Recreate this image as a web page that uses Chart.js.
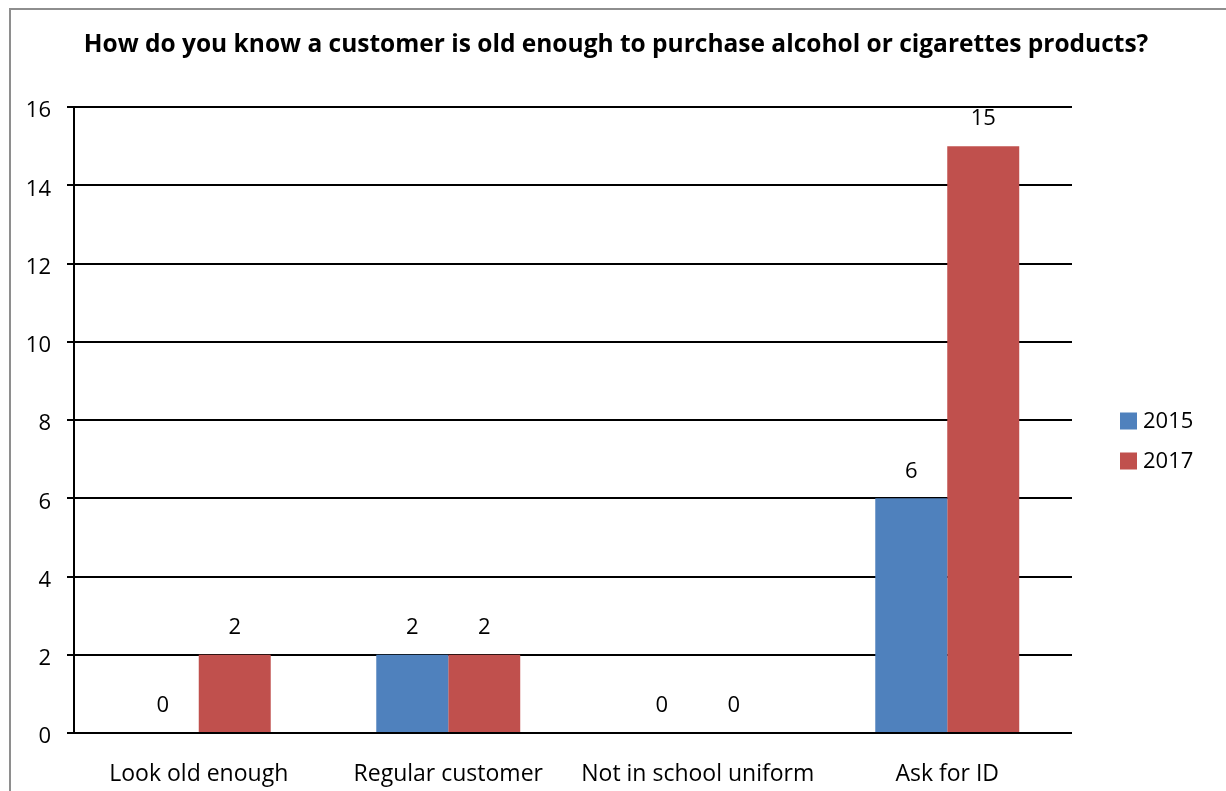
<!DOCTYPE html>
<html>
<head>
<meta charset="utf-8">
<script src="https://cdn.jsdelivr.net/npm/chart.js@4/dist/chart.umd.min.js"></script>
<style>
  html, body { margin: 0; padding: 0; background: #fff; overflow: hidden; }
  #wrap { position: relative; width: 1226px; height: 791px; }
  #frame { position: absolute; left: 9px; top: 8px; width: 1400px; height: 1000px;
           border: 2px solid #8e8e8e; box-sizing: border-box; pointer-events: none; }
  canvas { position: absolute; left: 0; top: 0; }
</style>
</head>
<body>
<div id="wrap">
  <div id="frame"></div>
  <canvas id="c" width="1226" height="791"></canvas>
</div>
<script>
const titleText = 'How do you know a customer is old enough to purchase alcohol or cigarettes products?';
const categories = ['Look old enough', 'Regular customer', 'Not in school uniform', 'Ask for ID'];
const seriesNames = ['2015', '2017'];
const values2015 = [0, 2, 0, 6];
const values2017 = [2, 2, 0, 15];
const seriesColors = ['#4F81BD', '#C0504D'];
const yTicks = [0, 2, 4, 6, 8, 10, 12, 14, 16];

const FONT = '"Open Sans", Lato, sans-serif';

// title centred across the whole canvas
const topTitle = {
  id: 'topTitle',
  afterDraw(chart) {
    const ctx = chart.ctx;
    ctx.save();
    ctx.font = 'bold 24.5px ' + FONT;
    ctx.fillStyle = '#000';
    ctx.textAlign = 'center';
    ctx.textBaseline = 'middle';
    ctx.fillText(titleText, chart.width / 2 + 3, 45);
    ctx.restore();
  }
};

// value labels above each bar
const valueLabels = {
  id: 'valueLabels',
  afterDatasetsDraw(chart) {
    const ctx = chart.ctx;
    ctx.save();
    ctx.font = '22px ' + FONT;
    ctx.fillStyle = '#000';
    ctx.textAlign = 'center';
    ctx.textBaseline = 'middle';
    chart.data.datasets.forEach((ds, i) => {
      chart.getDatasetMeta(i).data.forEach((bar, j) => {
        ctx.fillText(String(ds.data[j]), bar.x, bar.y - 27);
      });
    });
    ctx.restore();
  }
};

// legend on the right side
const sideLegend = {
  id: 'sideLegend',
  afterDraw(chart) {
    const ctx = chart.ctx;
    ctx.save();
    ctx.font = '22px ' + FONT;
    ctx.textBaseline = 'middle';
    ctx.textAlign = 'left';
    const x0 = chart.chartArea.right + 48;
    const yMid = 441;
    chart.data.datasets.forEach((ds, i) => {
      const y = yMid + (i - 0.5) * 40;
      ctx.fillStyle = ds.backgroundColor;
      ctx.fillRect(x0, y - 8.5, 17, 17);
      ctx.fillStyle = '#000';
      ctx.fillText(ds.label, x0 + 23, y + 1);
    });
    ctx.restore();
  }
};

new Chart(document.getElementById('c'), {
  type: 'bar',
  data: {
    labels: categories,
    datasets: [
      { label: seriesNames[0], data: values2015, backgroundColor: seriesColors[0] },
      { label: seriesNames[1], data: values2017, backgroundColor: seriesColors[1] }
    ]
  },
  options: {
    responsive: false,
    animation: false,
    devicePixelRatio: 1,
    layout: { padding: { left: 0, right: 154, top: 107, bottom: 0 } },
    datasets: { bar: { categoryPercentage: 0.577, barPercentage: 1.0, borderWidth: 0 } },
    plugins: {
      legend: { display: false },
      tooltip: { enabled: false },
      title: { display: false }
    },
    scales: {
      x: {
        grid: { display: false, drawTicks: false },
        border: { display: false },
        ticks: { color: '#000', font: { family: FONT, size: 23 }, padding: 28 },
        afterFit(s) { s.height = 58; }
      },
      y: {
        min: 0, max: 16,
        afterBuildTicks(s) { s.ticks = yTicks.map(v => ({ value: v })); },
        grid: { color: '#000', lineWidth: 2, tickLength: 7, drawTicks: true, tickColor: '#000' },
        border: { display: true, color: '#000', width: 2 },
        ticks: { color: '#000', font: { family: FONT, size: 22 }, padding: 16, labelOffset: 4 },
        afterFit(s) { s.width = 74; }
      }
    }
  },
  plugins: [valueLabels, sideLegend, topTitle]
});
</script>
</body>
</html>
